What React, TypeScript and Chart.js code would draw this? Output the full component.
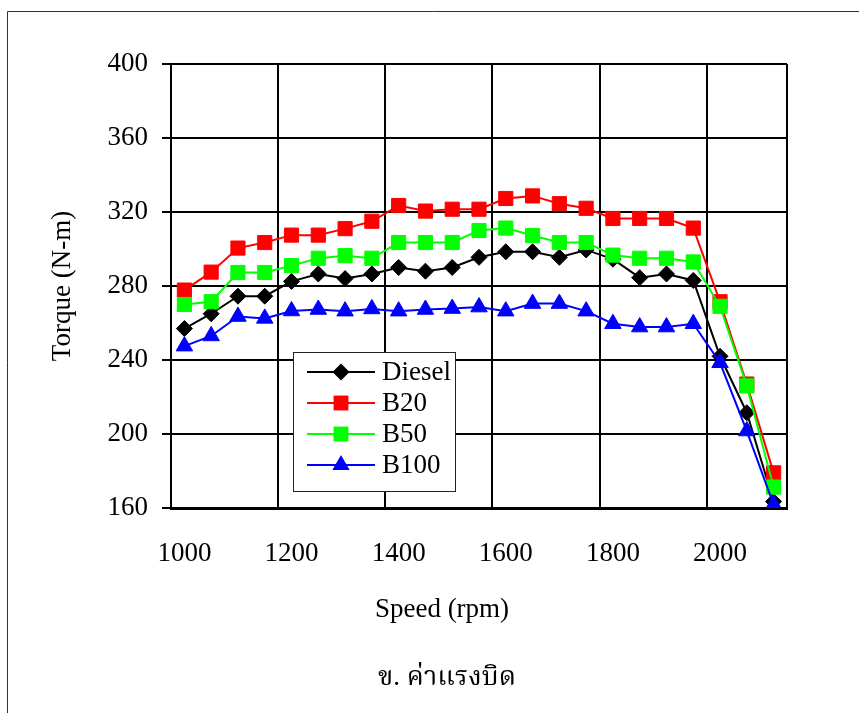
import React, { useEffect, useRef } from "react";
import { Chart, registerables } from "chart.js";

Chart.register(...registerables);

const speeds = [
  "1000", "1050", "1100", "1150", "1200", "1250", "1300", "1350", "1400", "1450", "1500", "1550",
  "1600", "1650", "1700", "1750", "1800", "1850", "1900", "1950", "2000", "2050", "2100",
];

const diesel = [
  257, 265, 274.5, 274.5, 282.5, 286.5, 284, 286.5, 290, 288, 290, 295.5,
  298.5, 298.5, 295.5, 299.5, 294.5, 284.5, 286.5, 283, 242, 211.5, 163.5,
];
const b20 = [
  277.8, 287.5, 300.5, 303.5, 307.5, 307.5, 311, 315, 323.5, 320.5, 321.5, 321.5,
  327.3, 328.7, 324.5, 322, 316.5, 316.5, 316.5, 311.3, 271.5, 227, 179,
];
const b50 = [
  270, 271.5, 287.3, 287.3, 291, 295, 296.4, 295, 303.5, 303.5, 303.5, 310,
  311.3, 307.3, 303.5, 303.5, 296.7, 295, 295, 293, 269, 226, 171.3,
];
const b100 = [
  247.5, 253, 263.5, 262.5, 266.5, 267.3, 266.4, 267.6, 266.4, 267.3, 267.8, 268.6,
  266.4, 270.5, 270.5, 266.4, 259.6, 257.8, 257.8, 259.6, 238.5, 201.6, 161.8,
];

const yTicks = { min: 160, max: 400, step: 40 };
const yTitle = "Torque (N-m)";
const xTitle = "Speed (rpm)";
const caption = "ข. ค่าแรงบิด";

const SERIF = "'Liberation Serif', 'Times New Roman', serif";
const THAI = "'Liberation Serif', 'Noto Serif Thai', 'Noto Sans Thai', 'Norasi', 'Garuda', 'Loma', serif";

function drawMarker(ctx: CanvasRenderingContext2D, style: string, x: number, y: number, r: number, color: string) {
  ctx.save();
  ctx.fillStyle = color;
  ctx.beginPath();
  if (style === "rectRot") {
    ctx.moveTo(x, y - r);
    ctx.lineTo(x + r, y);
    ctx.lineTo(x, y + r);
    ctx.lineTo(x - r, y);
  } else if (style === "rect") {
    const s = Math.SQRT1_2 * r;
    ctx.rect(x - s, y - s, 2 * s, 2 * s);
  } else {
    const h = Math.sin(Math.PI / 3) * r;
    ctx.moveTo(x, y - r);
    ctx.lineTo(x + h, y + r / 2);
    ctx.lineTo(x - h, y + r / 2);
  }
  ctx.closePath();
  ctx.fill();
  ctx.restore();
}

const decorPlugin = {
  id: "decor",
  beforeDraw(chart: any) {
    const ctx = chart.ctx as CanvasRenderingContext2D;
    ctx.save();
    ctx.fillStyle = "#fff";
    ctx.fillRect(0, 0, chart.width, chart.height);
    ctx.strokeStyle = "#333";
    ctx.lineWidth = 1;
    ctx.beginPath();
    ctx.moveTo(chart.width, 11.5);
    ctx.lineTo(7.5, 11.5);
    ctx.lineTo(7.5, chart.height);
    ctx.stroke();
    ctx.restore();
  },
  afterDraw(chart: any) {
    const ctx = chart.ctx as CanvasRenderingContext2D;
    ctx.save();
    // axis title & caption
    ctx.fillStyle = "#000";
    ctx.textAlign = "center";
    ctx.textBaseline = "alphabetic";
    ctx.font = `27px ${SERIF}`;
    ctx.fillText(xTitle, 442, 617);
    ctx.font = `27px ${THAI}`;
    ctx.fillText(caption, 447, 685);

    // legend
    const bx = 293.5, by = 352.5, bw = 162, bh = 139;
    ctx.fillStyle = "#fff";
    ctx.fillRect(bx, by, bw, bh);
    ctx.strokeStyle = "#222";
    ctx.lineWidth = 1;
    ctx.strokeRect(bx, by, bw, bh);
    const rows = [372, 403, 434, 465];
    const metas = chart.data.datasets;
    metas.forEach((ds: any, i: number) => {
      const y = rows[i];
      ctx.strokeStyle = ds.borderColor;
      ctx.lineWidth = 2;
      ctx.beginPath();
      ctx.moveTo(307, y);
      ctx.lineTo(375, y);
      ctx.stroke();
      drawMarker(ctx, ds.pointStyle, 341, y, ds.pointStyle === "rect" ? 10.5 : ds.pointStyle === "triangle" ? 10 : 8.5, ds.borderColor);
      ctx.fillStyle = "#000";
      ctx.textAlign = "left";
      ctx.font = `27px ${SERIF}`;
      ctx.fillText(ds.label, 382, y + 8);
    });
    ctx.restore();
  },
};

export default function App() {
  const ref = useRef<HTMLCanvasElement | null>(null);
  useEffect(() => {
    if (!ref.current) return;
    const chart = new Chart(ref.current, {
      type: "line",
      data: {
        labels: speeds,
        datasets: [
          { label: "Diesel", data: diesel, borderColor: "#000000", backgroundColor: "#000000", pointStyle: "rectRot", pointRadius: 8, pointBorderWidth: 1, borderWidth: 2, order: 4 },
          { label: "B20", data: b20, borderColor: "#FF0000", backgroundColor: "#FF0000", pointStyle: "rect", pointRadius: 10, pointBorderWidth: 1, borderWidth: 2, order: 3 },
          { label: "B50", data: b50, borderColor: "#00FF00", backgroundColor: "#00FF00", pointStyle: "rect", pointRadius: 10, pointBorderWidth: 1, borderWidth: 2, order: 2 },
          { label: "B100", data: b100, borderColor: "#0000FF", backgroundColor: "#0000FF", pointStyle: "triangle", pointRadius: 9.5, pointBorderWidth: 1, borderWidth: 2, order: 1 },
        ] as any,
      },
      options: {
        animation: false,
        responsive: false,
        layout: { padding: { left: 47, top: 64, right: 72, bottom: 0 } },
        plugins: { legend: { display: false }, tooltip: { enabled: false }, title: { display: false } },
        scales: {
          x: {
            type: "category",
            offset: true,
            grid: {
              offset: true,
              drawTicks: false,
              lineWidth: 2,
              color: (c: any) => (c.index === undefined || c.index % 4 === 0 ? "#000" : "rgba(0,0,0,0)"),
            },
            border: { display: true, color: "#000", width: 3 },
            ticks: {
              autoSkip: false,
              maxRotation: 0,
              minRotation: 0,
              padding: 30,
              color: "#000",
              font: { family: SERIF, size: 27 },
              callback: (_v: any, i: number) => (i % 4 === 0 ? speeds[i] : ""),
            },
            afterFit: (s: any) => { s.height = 205; },
          },
          y: {
            min: yTicks.min,
            max: yTicks.max,
            ticks: { stepSize: yTicks.step, padding: 14, color: "#000", font: { family: SERIF, size: 27 } },
            grid: { color: "#000", lineWidth: 2, tickLength: 9, drawTicks: true },
            border: { display: true, color: "#000", width: 2 },
            title: { display: true, text: yTitle, color: "#000", font: { family: SERIF, size: 27, lineHeight: 1.2 }, padding: 0 },
            afterFit: (s: any) => { s.width = 124; },
          },
        },
      } as any,
      plugins: [decorPlugin],
    });
    return () => chart.destroy();
  }, []);
  return (
    <div>
      <canvas ref={ref} width={859} height={713} style={{ position: "fixed", left: 0, top: 0 }} />
    </div>
  );
}
